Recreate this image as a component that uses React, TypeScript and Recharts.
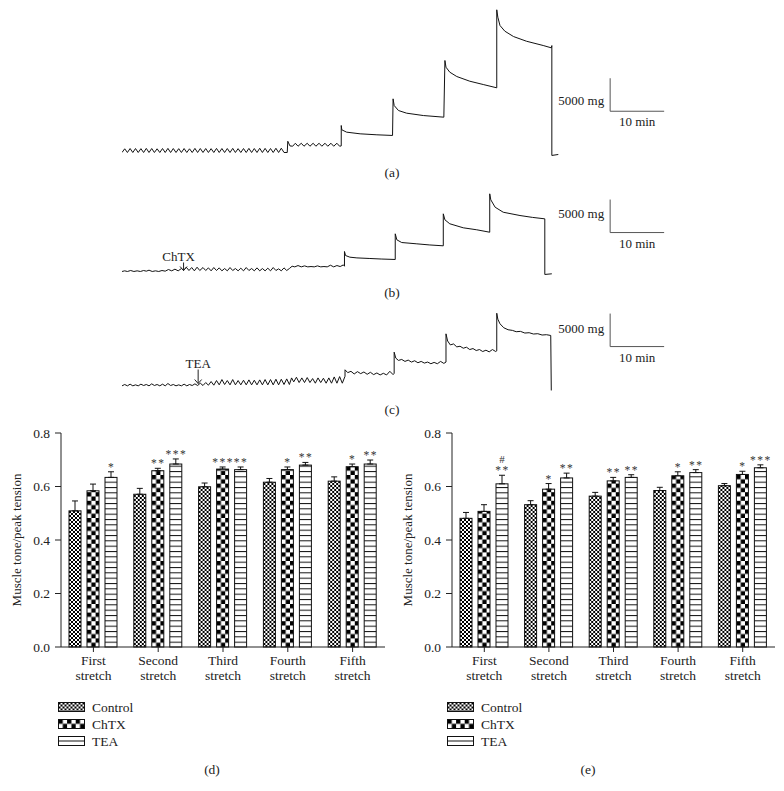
import React from 'react';
import {
  LineChart,
  Line,
  XAxis,
  YAxis,
  ReferenceLine,
  ReferenceDot,
  BarChart,
  Bar,
  ErrorBar,
} from 'recharts';

const SERIF = '"Liberation Serif", "Times New Roman", serif';
const INK = '#222';

// ---- tension recordings: [minutes, mg above resting baseline] ----
const traceA: [number, number][] = [
  [0, 0], [0.5, 560], [1, 0], [1.5, 600], [2, 0], [2.5, 600], [3, 0], [3.5, 580], [4, 0], [4.5, 620],
  [5, 0], [5.5, 600], [6, 0], [6.5, 560], [7, 0], [7.5, 600], [8, 0], [8.5, 620], [9, 0], [9.5, 600],
  [10, 0], [10.5, 580], [11, 0], [11.5, 600], [12, 0], [12.5, 560], [13, 0], [13.5, 620], [14, 0], [14.5, 600],
  [15, 0], [15.5, 600], [16, 0], [16.5, 580], [17, 0], [17.5, 620], [18, 0], [18.5, 600], [19, 0], [19.5, 600],
  [20, 0], [20.5, 620], [21, 0], [21.5, 580], [22, 0], [22.5, 600], [23, 0], [23.5, 620], [24, 0], [24.5, 600],
  [25, 0], [25.5, 640], [26, 0], [26.5, 620], [27, 0], [27.5, 600], [28, 0], [28.5, 640], [29, 0], [29.5, 650],
  [30, 0], [30.6, 0],
  [30.7, 1700], [31.1, 1000], [31.6, 950], [32.1, 1400], [32.6, 950], [33.2, 1400], [33.7, 950], [34.3, 1400],
  [34.8, 950], [35.4, 1400], [35.9, 950], [36.5, 1400], [37, 950], [37.6, 1400], [38.1, 950], [38.7, 1400],
  [39.2, 950], [39.8, 1400], [40.3, 950], [40.6, 1000],
  [40.6, 4090], [40.7, 3440], [41.6, 3080], [44.1, 2830], [47.2, 2680], [50.1, 2580],
  [50.2, 8130], [50.4, 7120], [51.2, 6360], [52.7, 5960], [55.8, 5600], [59.6, 5350],
  [59.8, 13940], [60, 12920], [60.7, 12170], [62, 11510], [64.4, 10800], [66.9, 10300], [69.4, 9800],
  [69.4, 21620], [69.6, 20500], [70, 19240], [70.9, 18380], [72.5, 17570], [74.9, 16860], [78, 16210],
  [79.5, 15860], [79.6, 16200], [79.6, -450], [80.8, -300],
];

const traceB: [number, number][] = [
  [0, 0], [0.5, 100], [1, 0], [1.6, 150], [2.2, 0], [2.8, 100], [3.4, 0], [4, 150], [4.5, 50], [5, 200],
  [5.6, 0], [6.2, 100], [6.8, 0], [7.4, 150], [8, 50], [8.6, 300], [9.2, 100], [9.8, 350], [10.4, 100], [11, 450],
  [11.4, 150], [11.9, 650], [12.4, 150], [12.9, 600], [13.4, 100], [13.9, 650], [14.4, 150], [15, 600],
  [15.5, 150], [16, 550], [16.5, 100], [17, 600], [17.5, 150], [18, 550], [18.5, 100], [19, 450], [19.5, 100],
  [20, 600], [20.5, 150], [21, 450], [21.5, 100], [22, 500], [22.5, 100], [23, 600], [23.5, 150], [24, 450],
  [24.5, 100], [25, 550], [25.5, 100], [26, 450], [26.5, 100], [27, 500], [27.5, 100], [28, 600], [28.5, 150],
  [29, 400], [29.5, 100], [30, 550], [30.5, 150], [31, 450], [31.5, 800],
  [32, 700], [32.6, 900], [33.2, 700], [33.8, 850], [34.4, 700], [35, 750], [35.6, 700], [36.2, 850],
  [36.8, 700], [37.4, 750], [38, 700], [38.6, 950], [39.2, 700], [39.8, 900], [40.4, 750], [41, 1000], [41.2, 800],
  [41.2, 3030], [41.4, 2420], [42.2, 2170], [43.5, 2060], [45.9, 1970], [48, 1890], [50.6, 1820],
  [50.6, 5710], [50.9, 4800], [51.8, 4390], [54.6, 4190], [57, 4020], [59.5, 3890],
  [59.5, 8740], [59.8, 7830], [60.7, 7230], [63.2, 6620], [65.7, 6320], [68.1, 5950],
  [68.1, 11770], [68.3, 10860], [69.1, 9740], [70.6, 8980], [73.7, 8480], [76, 8200], [78.3, 7980],
  [78.3, -450], [79.6, -350],
];

const traceC: [number, number][] = [
  [0, 100], [0.5, 300], [1, 100], [1.5, 350], [2, 100], [2.5, 250], [3, 100], [3.5, 350], [4, 150], [4.5, 300],
  [5, 100], [5.5, 400], [6, 150], [6.5, 300], [7, 100], [7.5, 350], [8, 100], [8.5, 450], [9, 150], [9.5, 300],
  [10, 100], [10.5, 250], [11, 100], [11.5, 350], [12, 100], [12.5, 300], [13, 150], [13.5, 400], [14, 150],
  [14.5, 500], [15, 150], [15.5, 600], [16, 200], [16.5, 750], [17, 200], [17.5, 900], [18, 250], [18.5, 1050],
  [19, 300], [19.5, 900], [20, 250], [20.5, 1050], [21, 250], [21.5, 900], [22, 250], [22.5, 950], [23, 250],
  [23.5, 1000], [24, 250], [24.5, 950], [25, 250], [25.5, 1000], [26, 250], [26.5, 1050], [27, 250], [27.5, 1050],
  [28, 250], [28.5, 1100], [29, 250], [29.5, 1100], [30, 300], [30.5, 1150], [31, 300], [31.4, 1300],
  [31.8, 700], [32.3, 1400], [32.8, 600], [33.3, 1300], [33.8, 600], [34.3, 1350], [34.8, 600], [35.3, 1200],
  [35.8, 500], [36.3, 1300], [36.8, 600], [37.3, 1250], [37.8, 500], [38.3, 1300], [38.8, 500], [39.3, 1450],
  [39.8, 500], [40.3, 1500], [40.8, 500], [41.3, 1550],
  [41.3, 2530], [41.8, 2100], [42.4, 2300], [43, 1900], [43.6, 2250], [44.2, 1950], [44.8, 2200], [45.4, 1850],
  [46, 2150], [46.6, 1800], [47.2, 2050], [47.8, 1750], [48.4, 2000], [49, 1750], [49.6, 2300], [50.2, 1800], [50.4, 2000],
  [50.4, 5200], [50.7, 4300], [51.2, 3950], [51.8, 4100], [52.4, 3800], [53, 4000], [53.6, 3700], [54.2, 3900],
  [54.8, 3600], [55.4, 3800], [56, 3550], [56.6, 3700], [57.2, 3450], [57.8, 3650], [58.4, 3450], [59, 3800],
  [59.6, 3500], [60, 3700],
  [60, 7980], [60.3, 6900], [60.8, 6300], [61.4, 6450], [62, 6000], [62.6, 6100], [63.2, 5800], [63.8, 5950],
  [64.4, 5600], [65, 5750], [65.6, 5450], [66.2, 5600], [66.8, 5300], [67.4, 5500], [68, 5250], [68.6, 5600],
  [69.2, 5300], [69.4, 5400],
  [69.4, 11100], [69.6, 10200], [70, 9500], [70.7, 8900], [71.5, 8600], [72.3, 8500], [73, 8300], [73.8, 8350],
  [74.6, 8100], [75.4, 8150], [76.2, 7950], [77, 8000], [77.8, 7800], [78.6, 7850], [79.4, 7730], [79.5, -600],
];

// ---- muscle tone / peak tension ----
const stretchNames = ['First stretch', 'Second stretch', 'Third stretch', 'Fourth stretch', 'Fifth stretch'];
const yTicks = [0, 0.2, 0.4, 0.6, 0.8];

const controlD = [0.509, 0.571, 0.599, 0.616, 0.62];
const controlDErr = [0.037, 0.022, 0.014, 0.014, 0.016];
const chtxD = [0.584, 0.659, 0.665, 0.663, 0.674];
const chtxDErr = [0.025, 0.009, 0.008, 0.01, 0.01];
const teaD = [0.634, 0.684, 0.663, 0.68, 0.684];
const teaDErr = [0.021, 0.019, 0.01, 0.01, 0.015];
const chtxDSig = ['', '**', '***', '*', '*'];
const teaDSig = ['*', '***', '**', '**', '**'];

const controlE = [0.481, 0.532, 0.564, 0.585, 0.603];
const controlEErr = [0.022, 0.015, 0.014, 0.012, 0.008];
const chtxE = [0.507, 0.59, 0.621, 0.64, 0.645];
const chtxEErr = [0.025, 0.021, 0.013, 0.015, 0.012];
const teaE = [0.61, 0.632, 0.634, 0.652, 0.67];
const teaEErr = [0.032, 0.018, 0.01, 0.011, 0.011];
const chtxESig = ['', '*', '**', '*', '*'];
const teaESig = ['**', '**', '**', '**', '***'];
const teaEHash = ['#', '', '', '', ''];

const MG_PX = 33 / 5000; // 5000 mg scale bar is 33 px
const MIN_PX = 5.4; // 10 min scale bar is 54 px
const T_MAX = 102;

function Trace({ points, baseY, yMax, scaleAt, labelDy, drug }: any) {
  const yMin = -1000;
  const data = points.map(([t, mg]: [number, number]) => ({ t, mg }));
  const height = (yMax - yMin) * MG_PX;
  const top = baseY - yMax * MG_PX;
  const [st, smg] = scaleAt;
  const txt = { fontFamily: SERIF, fontSize: 13, fill: INK };
  return (
    <div style={{ position: 'absolute', left: 122, top }}>
      <LineChart width={T_MAX * MIN_PX} height={height} data={data} margin={{ top: 0, right: 0, bottom: 0, left: 0 }}>
        <XAxis type="number" dataKey="t" domain={[0, T_MAX]} hide allowDataOverflow />
        <YAxis type="number" domain={[yMin, yMax]} hide allowDataOverflow />
        <Line dataKey="mg" type="linear" stroke="#111" strokeWidth={1} dot={false} isAnimationActive={false} />
        <ReferenceLine
          segment={[{ x: st, y: smg }, { x: st, y: smg + 5000 }]}
          stroke="#555"
          label={(p: any) => (
            <text x={p.viewBox.x - 6} y={p.viewBox.y + p.viewBox.height / 2 + labelDy} textAnchor="end" {...txt}>
              5000 mg
            </text>
          )}
        />
        <ReferenceLine
          segment={[{ x: st, y: smg }, { x: st + 10, y: smg }]}
          stroke="#555"
          label={(p: any) => (
            <text x={p.viewBox.x + p.viewBox.width / 2} y={p.viewBox.y + 15} textAnchor="middle" {...txt}>
              10 min
            </text>
          )}
        />
        {drug && (
          <ReferenceDot
            x={drug.t}
            y={drug.mg}
            r={0}
            shape={(p: any) => (
              <g>
                <line x1={p.cx} y1={p.cy} x2={p.cx} y2={p.cy - drug.len} stroke="#222" />
                <path d={`M${p.cx - 3.5},${p.cy - 4} L${p.cx},${p.cy} L${p.cx + 3.5},${p.cy - 4}`} fill="none" stroke="#222" />
                <text x={p.cx - drug.dx} y={p.cy - drug.len - 2} textAnchor="middle" {...txt}>
                  {drug.label}
                </text>
              </g>
            )}
          />
        )}
      </LineChart>
    </div>
  );
}

function patternFor(kind: string, pid: string, x: number, y: number) {
  if (kind === 'control') {
    return (
      <pattern id={pid} patternUnits="userSpaceOnUse" x={x} y={y} width={4} height={4}>
        <rect width={4} height={4} fill="#fff" />
        <rect width={2} height={2} fill="#000" />
        <rect x={2} y={2} width={2} height={2} fill="#000" />
      </pattern>
    );
  }
  if (kind === 'chtx') {
    return (
      <pattern id={pid} patternUnits="userSpaceOnUse" x={x} y={y} width={8.6} height={8.6}>
        <rect width={8.6} height={8.6} fill="#fff" />
        <rect width={4.3} height={4.3} fill="#000" />
        <rect x={4.3} y={4.3} width={4.3} height={4.3} fill="#000" />
      </pattern>
    );
  }
  return (
    <pattern id={pid} patternUnits="userSpaceOnUse" x={x} y={y} width={12} height={16 / 3}>
      <rect width={12} height={16 / 3} fill="#fff" />
      <rect y={0} width={12} height={1} fill="#111" />
    </pattern>
  );
}

function PatternBar(props: any) {
  const { x, y, width, height, index, payload, kind, chartId, sig, hash } = props;
  if (!height || height <= 0) return null;
  const pid = `${chartId}-${kind}-${index}`;
  const value = payload[kind];
  const err = payload[`${kind}Err`][1];
  const errTop = y - (err * height) / value;
  const cx = x + width / 2;
  const s = sig ? sig[index] : '';
  const h = hash ? hash[index] : '';
  return (
    <g>
      <defs>{patternFor(kind, pid, x, y + height)}</defs>
      <rect x={x} y={y} width={width} height={height} fill={`url(#${pid})`} stroke="#111" strokeWidth={1} />
      {s && (
        <text x={cx + 0.5} y={errTop - 1} textAnchor="middle" fontFamily={SERIF} fontSize={11.5} letterSpacing={1.5} fill="#333">
          {s}
        </text>
      )}
      {h && (
        <text x={cx} y={errTop - 12.5} textAnchor="middle" fontFamily={SERIF} fontSize={11} fill="#333">
          {h}
        </text>
      )}
    </g>
  );
}

function StretchTick(props: any) {
  const { x, y, payload } = props;
  const [a, b] = String(payload.value).split(' ');
  return (
    <text x={x} y={y} textAnchor="middle" fontFamily={SERIF} fontSize={13.5} fill={INK}>
      <tspan x={x} dy={11}>{a}</tspan>
      <tspan x={x} dy={15}>{b}</tspan>
    </text>
  );
}

function StretchChart({ chartId, left, width, right, control, controlErr, chtx, chtxErr, tea, teaErr, chtxSig, teaSig, teaHash }: any) {
  const data = stretchNames.map((name, i) => ({
    name,
    control: control[i],
    controlErr: [0, controlErr[i]],
    chtx: chtx[i],
    chtxErr: [0, chtxErr[i]],
    tea: tea[i],
    teaErr: [0, teaErr[i]],
  }));
  return (
    <div style={{ position: 'absolute', left, top: 420 }}>
      <BarChart width={width} height={277} data={data} margin={{ top: 13, right, bottom: 0, left: 0 }} barSize={12} barGap={6}>
        <XAxis
          dataKey="name"
          height={50}
          interval={0}
          tickSize={5}
          stroke="#222"
          tick={<StretchTick />}
        />
        <YAxis
          type="number"
          domain={[0, 0.8]}
          ticks={yTicks}
          tickFormatter={(v: number) => v.toFixed(1)}
          width={61}
          tickSize={6}
          tickMargin={5}
          stroke="#222"
          tick={{ fontFamily: SERIF, fontSize: 13.5, fill: INK }}
          label={(p: any) => {
            const cy = p.viewBox.y + p.viewBox.height / 2;
            const lx = p.viewBox.x + 16;
            return (
              <text x={lx} y={cy} transform={`rotate(-90, ${lx}, ${cy})`} textAnchor="middle" dominantBaseline="central" fontFamily={SERIF} fontSize={13} fill={INK}>
                Muscle tone/peak tension
              </text>
            );
          }}
        />
        <Bar dataKey="control" isAnimationActive={false} shape={(p: any) => <PatternBar {...p} kind="control" chartId={chartId} />}>
          <ErrorBar dataKey="controlErr" direction="y" width={3} stroke="#111" strokeWidth={1} />
        </Bar>
        <Bar dataKey="chtx" isAnimationActive={false} shape={(p: any) => <PatternBar {...p} kind="chtx" chartId={chartId} sig={chtxSig} />}>
          <ErrorBar dataKey="chtxErr" direction="y" width={3} stroke="#111" strokeWidth={1} />
        </Bar>
        <Bar dataKey="tea" isAnimationActive={false} shape={(p: any) => <PatternBar {...p} kind="tea" chartId={chartId} sig={teaSig} hash={teaHash} />}>
          <ErrorBar dataKey="teaErr" direction="y" width={3} stroke="#111" strokeWidth={1} />
        </Bar>
      </BarChart>
    </div>
  );
}

const legendItems = [
  { kind: 'control', label: 'Control' },
  { kind: 'chtx', label: 'ChTX' },
  { kind: 'tea', label: 'TEA' },
];

function GroupLegend({ id, left, top }: any) {
  return (
    <svg style={{ position: 'absolute', left, top }} width={120} height={60}>
      {legendItems.map((it, i) => {
        const cy = 11 + i * 17;
        const ry = cy - 4.5;
        const pid = `leg-${id}-${it.kind}`;
        return (
          <g key={it.kind}>
            <defs>
              {it.kind === 'tea' ? (
                <pattern id={pid} patternUnits="userSpaceOnUse" x={0.5} y={ry} width={26} height={9}>
                  <rect width={26} height={9} fill="#fff" />
                  <rect y={4} width={26} height={1} fill="#111" />
                </pattern>
              ) : (
                patternFor(it.kind, pid, 0.5, ry)
              )}
            </defs>
            <rect x={0.5} y={ry} width={26} height={9} fill={`url(#${pid})`} stroke="#111" />
            <text x={34} y={cy + 4.5} fontFamily={SERIF} fontSize={13.5} fill={INK}>
              {it.label}
            </text>
          </g>
        );
      })}
    </svg>
  );
}

function PanelTag({ x, y, children }: any) {
  return (
    <div
      style={{
        position: 'absolute',
        left: x,
        top: y,
        transform: 'translate(-50%, -50%)',
        fontFamily: SERIF,
        fontSize: 13.5,
        color: INK,
        whiteSpace: 'nowrap',
      }}
    >
      {children}
    </div>
  );
}

export default function App() {
  return (
    <div style={{ position: 'absolute', left: 0, top: 0, width: 784, height: 791, background: '#fff', overflow: 'hidden' }}>
      <Trace points={traceA} baseY={152} yMax={22500} scaleAt={[90.4, 6250]} labelDy={10} />
      <Trace
        points={traceB}
        baseY={271}
        yMax={12500}
        scaleAt={[90.4, 5900]}
        labelDy={2}
        drug={{ t: 11.4, mg: 150, len: 8, label: 'ChTX', dx: 5 }}
      />
      <Trace
        points={traceC}
        baseY={386}
        yMax={12500}
        scaleAt={[90.4, 6050]}
        labelDy={3}
        drug={{ t: 14.1, mg: 450, len: 14, label: 'TEA', dx: 0 }}
      />
      <PanelTag x={392} y={173}>(a)</PanelTag>
      <PanelTag x={392} y={293}>(b)</PanelTag>
      <PanelTag x={392} y={410}>(c)</PanelTag>

      <StretchChart
        chartId="d"
        left={0}
        width={400}
        right={15}
        control={controlD}
        controlErr={controlDErr}
        chtx={chtxD}
        chtxErr={chtxDErr}
        tea={teaD}
        teaErr={teaDErr}
        chtxSig={chtxDSig}
        teaSig={teaDSig}
      />
      <StretchChart
        chartId="e"
        left={391}
        width={393}
        right={9}
        control={controlE}
        controlErr={controlEErr}
        chtx={chtxE}
        chtxErr={chtxEErr}
        tea={teaE}
        teaErr={teaEErr}
        chtxSig={chtxESig}
        teaSig={teaESig}
        teaHash={teaEHash}
      />
      <GroupLegend id="d" left={58} top={696} />
      <GroupLegend id="e" left={447} top={696} />
      <PanelTag x={212} y={770}>(d)</PanelTag>
      <PanelTag x={588} y={770}>(e)</PanelTag>
    </div>
  );
}
